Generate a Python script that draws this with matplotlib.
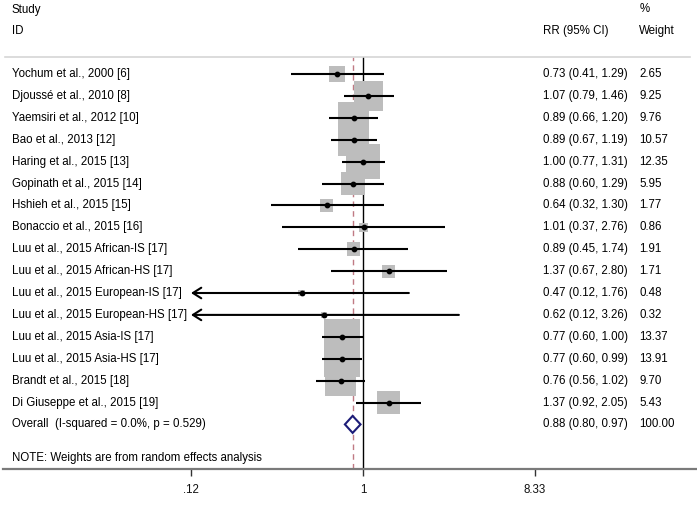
import numpy as np
import matplotlib
matplotlib.use("Agg")
import matplotlib.pyplot as plt
from matplotlib.patches import Polygon
from matplotlib.transforms import blended_transform_factory

plt.rcParams['font.family'] = ['Liberation Sans', 'DejaVu Sans']

# ---------------- data ----------------
studies = [
    "Yochum et al., 2000 [6]",
    "Djoussé et al., 2010 [8]",
    "Yaemsiri et al., 2012 [10]",
    "Bao et al., 2013 [12]",
    "Haring et al., 2015 [13]",
    "Gopinath et al., 2015 [14]",
    "Hshieh et al., 2015 [15]",
    "Bonaccio et al., 2015 [16]",
    "Luu et al., 2015 African-IS [17]",
    "Luu et al., 2015 African-HS [17]",
    "Luu et al., 2015 European-IS [17]",
    "Luu et al., 2015 European-HS [17]",
    "Luu et al., 2015 Asia-IS [17]",
    "Luu et al., 2015 Asia-HS [17]",
    "Brandt et al., 2015 [18]",
    "Di Giuseppe et al., 2015 [19]",
]
rr = [0.73, 1.07, 0.89, 0.89, 1.00, 0.88, 0.64, 1.01, 0.89, 1.37, 0.47, 0.62, 0.77, 0.77, 0.76, 1.37]
lo = [0.41, 0.79, 0.66, 0.67, 0.77, 0.60, 0.32, 0.37, 0.45, 0.67, 0.12, 0.12, 0.60, 0.60, 0.56, 0.92]
hi = [1.29, 1.46, 1.20, 1.19, 1.31, 1.29, 1.30, 2.76, 1.74, 2.80, 1.76, 3.26, 1.00, 0.99, 1.02, 2.05]
weights = [2.65, 9.25, 9.76, 10.57, 12.35, 5.95, 1.77, 0.86, 1.91, 1.71, 0.48, 0.32, 13.37, 13.91, 9.70, 5.43]

overall_label = "Overall  (I-squared = 0.0%, p = 0.529)"
overall_rr, overall_lo, overall_hi, overall_w = 0.88, 0.80, 0.97, 100.00

xticks = [0.12, 1, 8.33]
xticklabels = [".12", "1", "8.33"]
axis_min = 0.12

# ---------------- layout ----------------
W, H = 697, 513
fig = plt.figure(figsize=(W / 100, H / 100), dpi=100)

px_per_ln = (535 - 191) / (np.log(8.33) - np.log(0.12))
x_one_px = 363
ax_left_px, ax_right_px = 3, 697
ax_top_px, ax_bot_px = 57, 469
row0_px, row_step = 74, 21.9

ax = fig.add_axes([ax_left_px / W, 1 - ax_bot_px / H,
                   (ax_right_px - ax_left_px) / W, (ax_bot_px - ax_top_px) / H])
ax.set_xscale('log')
ax.set_xlim(np.exp(-(x_one_px - ax_left_px) / px_per_ln),
            np.exp((ax_right_px - x_one_px) / px_per_ln))
ax.set_ylim((ax_bot_px - row0_px) / row_step, (ax_top_px - row0_px) / row_step)

for s in ['left', 'right', 'top']:
    ax.spines[s].set_visible(False)
ax.spines['bottom'].set_color('#7a7a7a')
ax.spines['bottom'].set_linewidth(1.6)
ax.set_yticks([])
ax.set_xticks(xticks)
ax.set_xticklabels(xticklabels)
ax.minorticks_off()
ax.tick_params(axis='x', length=5, width=1, color='#333333', labelsize=8.3,
               labelcolor='#111111', pad=6)

# header separator
ax.axhline(ax.get_ylim()[1], xmin=0.003, xmax=0.99, color='#d6d6d6', lw=1.2, clip_on=False)

n = len(studies)
ys = np.arange(n)
y_over = n

# reference lines
ax.axvline(1, color='black', lw=1, zorder=1)
ax.axvline(overall_rr, color='#c07a84', lw=1, ls=(0, (4, 3)), zorder=1)

# boxes (side proportional to sqrt(weight))
side_pt = 9.8 * 0.72 * np.sqrt(np.array(weights))
ax.scatter(rr, ys, s=side_pt ** 2, marker='s', color='#bdbdbd', linewidths=0, zorder=2)

# CI lines
for i in range(n):
    if lo[i] <= axis_min:
        ax.annotate('', xy=(axis_min, ys[i]), xytext=(hi[i], ys[i]),
                    arrowprops=dict(arrowstyle='->,head_length=0.6,head_width=0.38',
                                    lw=1.5, color='black', shrinkA=0, shrinkB=0,
                                    mutation_scale=10), zorder=3)
    else:
        ax.plot([lo[i], hi[i]], [ys[i], ys[i]], color='black', lw=1.5, zorder=3,
                solid_capstyle='butt')

ax.scatter(rr, ys, s=10, marker='o', color='black', zorder=4)

# overall diamond
h = 8.5 / row_step
diamond = Polygon([[overall_lo, y_over], [overall_rr, y_over - h],
                   [overall_hi, y_over], [overall_rr, y_over + h]],
                  closed=True, facecolor='white', edgecolor='#1c1c78', lw=1.5, zorder=5)
ax.add_patch(diamond)

# ---------------- text ----------------
fs = 8.3
tcol = '#000000'
def fx(px):
    return px / W
def fy(py):
    return 1 - py / H

fig.text(fx(12), fy(10), "Study", fontsize=fs, va='center', color=tcol)
fig.text(fx(12), fy(31), "ID", fontsize=fs, va='center', color=tcol)
fig.text(fx(640), fy(9), "%", fontsize=fs, va='center', color=tcol)
fig.text(fx(543), fy(31), "RR (95% CI)", fontsize=fs, va='center', color=tcol)
fig.text(fx(639), fy(31), "Weight", fontsize=fs, va='center', color=tcol)

tr = blended_transform_factory(fig.transFigure, ax.transData)
for i in range(n):
    ax.text(fx(12), ys[i], studies[i], transform=tr, fontsize=fs, va='center', color=tcol)
    ax.text(fx(543), ys[i], f"{rr[i]:.2f} ({lo[i]:.2f}, {hi[i]:.2f})", transform=tr,
            fontsize=fs, va='center', color=tcol)
    ax.text(fx(639), ys[i], f"{weights[i]:.2f}", transform=tr, fontsize=fs, va='center', color=tcol)

ax.text(fx(12), y_over, overall_label, transform=tr, fontsize=fs, va='center', color=tcol)
ax.text(fx(543), y_over, f"{overall_rr:.2f} ({overall_lo:.2f}, {overall_hi:.2f})", transform=tr,
        fontsize=fs, va='center', color=tcol)
ax.text(fx(639), y_over, f"{overall_w:.2f}", transform=tr, fontsize=fs, va='center', color=tcol)

fig.text(fx(12), fy(458), "NOTE: Weights are from random effects analysis", fontsize=fs,
         va='center', color=tcol)

fig.savefig("out.png", dpi=100)
